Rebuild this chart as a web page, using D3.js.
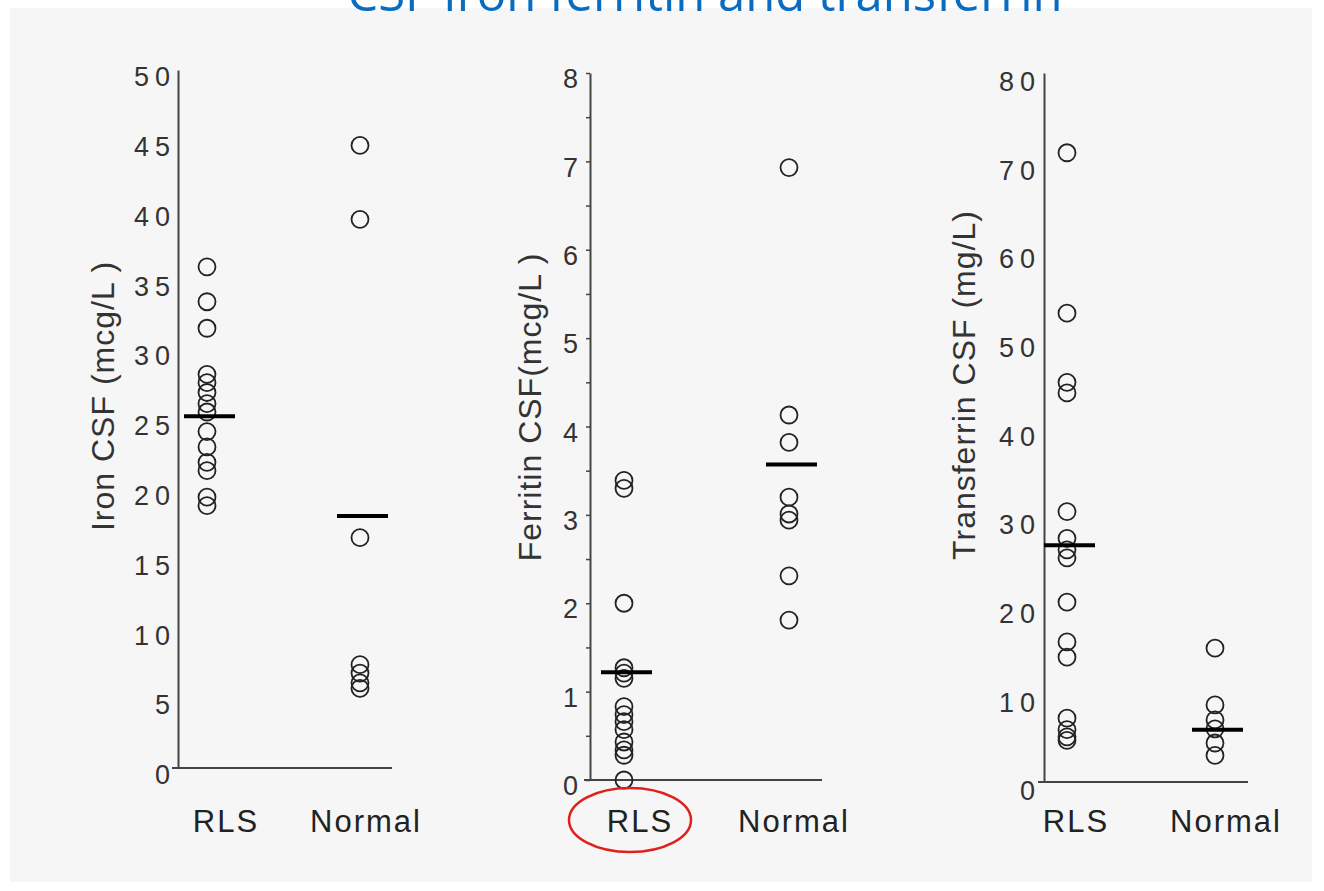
<!DOCTYPE html>
<html>
<head>
<meta charset="utf-8">
<script src="https://cdn.jsdelivr.net/npm/d3@7"></script>
<style>
  body { margin: 0; background: #fff; }
  svg { display: block; }
</style>
</head>
<body>
<div id="chart"></div>
<script>
const W = 1324, H = 891;

// Data
const categories = ['RLS', 'Normal'];

const ironRLS = [35.9, 33.4, 31.5, 28.2, 27.6, 26.9, 26.1, 25.5, 24.1, 23.0, 21.9, 21.3, 19.4, 18.8];
const ironNormal = [44.6, 39.3, 16.5, 7.4, 6.8, 6.1, 5.7];
const ironMeans = [25.2, 18.05];
const ironTicks = [0, 5, 10, 15, 20, 25, 30, 35, 40, 45, 50];

const ferritinRLS = [3.39, 3.3, 2.0, 1.27, 1.21, 1.15, 0.83, 0.74, 0.66, 0.57, 0.43, 0.34, 0.28, 0.0];
const ferritinNormal = [6.93, 4.13, 3.82, 3.2, 3.01, 2.94, 2.31, 1.81];
const ferritinMeans = [1.22, 3.57];
const ferritinTicks = [0, 0.5, 1, 1.5, 2, 2.5, 3, 3.5, 4, 4.5, 5, 5.5, 6, 6.5, 7, 7.5, 8];

const transferrinRLS = [71.0, 52.9, 45.1, 43.9, 30.5, 27.5, 26.2, 25.3, 20.3, 15.8, 14.1, 7.2, 5.9, 5.1, 4.7];
const transferrinNormal = [15.1, 8.7, 7.0, 6.0, 4.4, 3.0];
const transferrinMeans = [26.7, 5.9];
const transferrinTicks = [0, 10, 20, 30, 40, 50, 60, 70, 80];

const panels = [
  { label: 'Iron CSF (mcg/L )', groups: [ironRLS, ironNormal], means: ironMeans, ticks: ironTicks, max: 50,
    axisX: 178, yRange: [768, 70], xRange: [207, 360], labelX: [226, 366], xEnd: 392,
    titleX: 114, titleY: 396, tickSize: 0, pad: 2, labelDy: 7 },
  { label: 'Ferritin CSF(mcg/L )', groups: [ferritinRLS, ferritinNormal], means: ferritinMeans, ticks: ferritinTicks, max: 8,
    axisX: 590, yRange: [780, 73], xRange: [624, 789], labelX: [640, 794], xEnd: 822,
    titleX: 541, titleY: 407, tickSize: 4, pad: 2, labelDy: 6 },
  { label: 'Transferrin CSF (mg/L)', groups: [transferrinRLS, transferrinNormal], means: transferrinMeans, ticks: transferrinTicks, max: 80,
    axisX: 1044, yRange: [782, 73], xRange: [1067, 1215], labelX: [1076, 1226], xEnd: 1248,
    titleX: 975, titleY: 385, tickSize: 0, pad: 3, labelDy: 9 }
];

const svg = d3.select('#chart')
  .append('svg')
  .attr('width', W)
  .attr('height', H);

// Photo background
svg.append('rect')
  .attr('x', 10).attr('y', 8)
  .attr('width', 1302).attr('height', 874)
  .attr('fill', '#f6f6f6');

// Title, cut off at the top as in the source
svg.append('text')
  .attr('x', 705)
  .attr('y', 11)
  .attr('text-anchor', 'middle')
  .attr('font-family', '"Open Sans", sans-serif')
  .attr('font-size', 49)
  .attr('fill', '#0a6cc0')
  .text('CSF Iron ferritin and transferrin');

panels.forEach(p => {
  const y = d3.scaleLinear().domain([0, p.max]).range(p.yRange);
  const x = d3.scalePoint().domain(categories).range(p.xRange);
  const lx = d3.scalePoint().domain(categories).range(p.labelX);
  const g = svg.append('g');

  // Y axis
  const axis = d3.axisLeft(y)
    .tickValues(p.ticks)
    .tickSize(p.tickSize)
    .tickSizeOuter(0)
    .tickPadding(p.pad)
    .tickFormat(d => Number.isInteger(d) ? d : '');
  const ag = g.append('g')
    .attr('transform', `translate(${p.axisX},0)`)
    .call(axis);
  ag.select('.domain').attr('stroke', '#444').attr('stroke-width', 2);
  ag.selectAll('.tick line').attr('stroke', '#444').attr('stroke-width', 1.5);
  ag.selectAll('.tick text')
    .attr('font-family', '"Liberation Sans", Arial, sans-serif')
    .attr('font-size', 27)
    .attr('letter-spacing', 6)
    .attr('fill', '#333')
    .attr('dy', '0.32em')
    .attr('y', p.labelDy);

  // X baseline
  g.append('line')
    .attr('x1', p.axisX - 6).attr('x2', p.xEnd)
    .attr('y1', y(0)).attr('y2', y(0))
    .attr('stroke', '#444').attr('stroke-width', 2);

  // Y label
  g.append('text')
    .attr('transform', `translate(${p.titleX},${p.titleY}) rotate(-90)`)
    .attr('text-anchor', 'middle')
    .attr('font-family', '"Liberation Sans", Arial, sans-serif')
    .attr('font-size', 32)
    .attr('letter-spacing', 1)
    .attr('fill', '#333')
    .text(p.label);

  // Category labels
  g.selectAll('text.cat')
    .data(categories)
    .enter()
    .append('text')
    .attr('class', 'cat')
    .attr('x', d => lx(d))
    .attr('y', 832)
    .attr('text-anchor', 'middle')
    .attr('font-family', '"Liberation Sans", Arial, sans-serif')
    .attr('font-size', 31)
    .attr('letter-spacing', 2)
    .attr('fill', '#222')
    .text(d => d);

  // Points
  p.groups.forEach((vals, i) => {
    g.selectAll(null)
      .data(vals)
      .enter()
      .append('circle')
      .attr('cx', x(categories[i]))
      .attr('cy', d => y(d))
      .attr('r', 8.5)
      .attr('fill', 'none')
      .attr('stroke', '#222')
      .attr('stroke-width', 1.8);
  });

  // Mean bars
  g.selectAll('line.mean')
    .data(p.means)
    .enter()
    .append('line')
    .attr('class', 'mean')
    .attr('x1', (d, i) => x(categories[i]) - 23)
    .attr('x2', (d, i) => x(categories[i]) + 28)
    .attr('y1', d => y(d))
    .attr('y2', d => y(d))
    .attr('stroke', '#000')
    .attr('stroke-width', 4);
});

// Red ellipse round the ferritin RLS label
svg.append('ellipse')
  .attr('cx', 630).attr('cy', 820)
  .attr('rx', 61).attr('ry', 32)
  .attr('fill', 'none')
  .attr('stroke', '#e0201b')
  .attr('stroke-width', 2.5);
</script>
</body>
</html>
